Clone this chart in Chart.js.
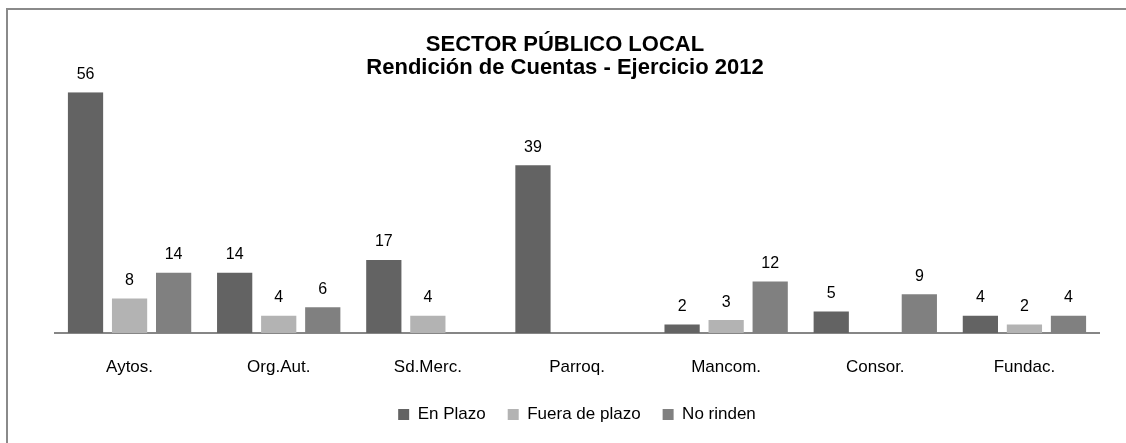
<!DOCTYPE html>
<html>
<head>
<meta charset="utf-8">
<script src="https://cdn.jsdelivr.net/npm/chart.js@4"></script>
<style>
  html, body { margin: 0; padding: 0; background: #fff; }
  #wrap { position: relative; width: 1126px; height: 443px; overflow: hidden; }
  #frame { position: absolute; left: 6px; top: 8px; width: 1140px; height: 460px; border: 2px solid #8a8a8a; box-sizing: border-box; }
  #chart { position: absolute; left: 0; top: 0; }
</style>
</head>
<body>
<div id="wrap">
  <div id="frame"></div>
  <canvas id="chart" width="1126" height="443"></canvas>
</div>
<script>
const categories = ['Aytos.', 'Org.Aut.', 'Sd.Merc.', 'Parroq.', 'Mancom.', 'Consor.', 'Fundac.'];
const enPlazo = [56, 14, 17, 39, 2, 5, 4];
const fueraDePlazo = [8, 4, 4, null, 3, null, 2];
const noRinden = [14, 6, null, null, 12, 9, 4];

const FONT = '"Liberation Sans", Arial, sans-serif';

// value labels above each bar
const valueLabels = {
    id: 'valueLabels',
    afterDatasetsDraw(chart) {
        const ctx = chart.ctx;
        ctx.save();
        ctx.font = '16px ' + FONT;
        ctx.fillStyle = '#000';
        ctx.textAlign = 'center';
        ctx.textBaseline = 'middle';
        chart.data.datasets.forEach((ds, i) => {
            chart.getDatasetMeta(i).data.forEach((bar, j) => {
                const v = ds.data[j];
                if (v === null || v === undefined) return;
                ctx.fillText(String(v), bar.x, bar.y - 18);
            });
        });
        ctx.restore();
    }
};

const hidden = { grid: { display: false }, border: { display: false }, ticks: { display: false } };

new Chart(document.getElementById('chart'), {
    type: 'bar',
    data: {
        labels: categories,
        datasets: [
            { label: 'En Plazo', data: enPlazo, backgroundColor: '#636363' },
            { label: 'Fuera de plazo', data: fueraDePlazo, backgroundColor: '#b3b3b3' },
            { label: 'No rinden', data: noRinden, backgroundColor: '#808080' }
        ]
    },
    options: {
        responsive: false,
        animation: false,
        devicePixelRatio: 1,
        categoryPercentage: 0.886,
        barPercentage: 0.8,
        layout: { padding: { left: 4, right: 0, top: 0, bottom: 10 } },
        scales: {
            x: {
                grid: { display: false, drawTicks: false },
                border: { display: true, color: '#868686', width: 2 },
                ticks: { color: '#000', padding: 24, font: { family: FONT, size: 17 } },
                afterFit(scale) { scale.height = 51; }
            },
            y: { ...hidden, min: 0, max: 56, afterFit(scale) { scale.width = 51; } },
            yRight: { ...hidden, position: 'right', afterFit(scale) { scale.width = 27; } }
        },
        plugins: {
            title: {
                display: true,
                text: ['SECTOR PÚBLICO LOCAL', 'Rendición de Cuentas - Ejercicio 2012'],
                color: '#000',
                font: { family: FONT, size: 22, weight: 'bold', lineHeight: 1.05 },
                padding: { top: 33, bottom: 13 }
            },
            legend: {
                position: 'bottom',
                fullSize: false,
                labels: {
                    color: '#000',
                    boxWidth: 11,
                    boxHeight: 11,
                    padding: 22,
                    font: { family: FONT, size: 17 }
                }
            },
            tooltip: { enabled: false }
        }
    },
    plugins: [valueLabels]
});
</script>
</body>
</html>
